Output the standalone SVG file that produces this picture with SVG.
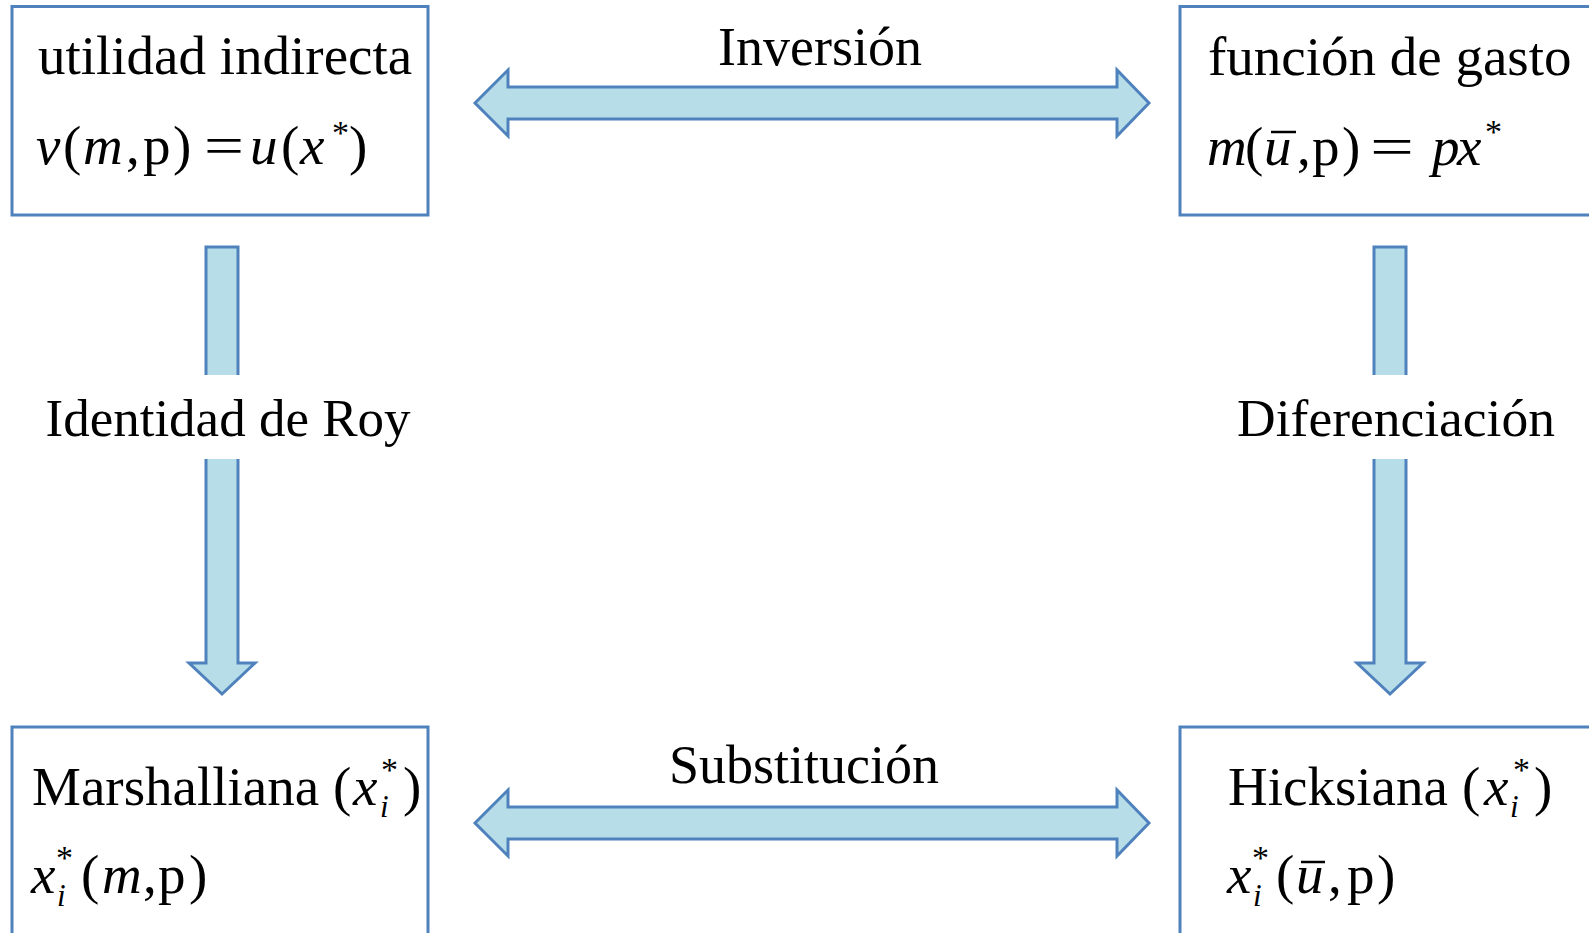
<svg xmlns="http://www.w3.org/2000/svg" width="1589" height="933" viewBox="0 0 1589 933">
<style>
.box{fill:#ffffff;stroke:#4F81BD;stroke-width:3}
.arr{fill:#B7DEE8;stroke:#4F81BD;stroke-width:3;stroke-linejoin:miter}
text{font-family:"Liberation Serif","Times New Roman",serif;font-size:55px;fill:#000}
.lbl{font-size:54px}
.i{font-style:italic}
.sup{font-size:34px}
.sub{font-size:31px;font-style:italic}
.bar{stroke:#000;stroke-width:2.5}
</style>
<rect width="1589" height="933" fill="#ffffff"/>
<g id="connectors">
  <g id="inversion">
    <path class="arr" d="M475,103 L508,70 L508,87 L1117,87 L1117,70 L1149,103 L1117,136 L1117,119 L508,119 L508,136 Z"/>
    <text class="lbl" x="820" y="65" text-anchor="middle">Inversión</text>
  </g>
  <g id="substitucion">
    <path class="arr" d="M475,823 L508,790 L508,807 L1117,807 L1117,790 L1149,823 L1117,856 L1117,839 L508,839 L508,856 Z"/>
    <text class="lbl" x="804" y="783" text-anchor="middle">Substitución</text>
  </g>
  <g id="roy">
    <path class="arr" d="M206,247 L238,247 L238,663 L255,663 L222,694 L189,663 L206,663 Z"/>
    <rect x="40" y="375" width="375" height="84" fill="#ffffff"/>
    <text class="lbl" x="228" y="436" text-anchor="middle" style="font-size:53px">Identidad de Roy</text>
  </g>
  <g id="diferenciacion">
    <path class="arr" d="M1374,247 L1406,247 L1406,663 L1423,663 L1390,694 L1357,663 L1374,663 Z"/>
    <rect x="1232" y="375" width="328" height="84" fill="#ffffff"/>
    <text class="lbl" x="1396" y="436" text-anchor="middle" style="font-size:53.5px">Diferenciación</text>
  </g>
</g>
<g id="node-utilidad">
  <rect class="box" x="12" y="6.5" width="416" height="208.5"/>
  <text x="38" y="74">utilidad indirecta</text>
  <text y="164"><tspan class="i" x="36">v</tspan><tspan x="63">(</tspan><tspan class="i" x="83">m</tspan><tspan x="126">,</tspan><tspan x="143">p</tspan><tspan x="173">)</tspan></text>
  <text x="204" y="164" textLength="40" lengthAdjust="spacingAndGlyphs">=</text>
  <text y="164"><tspan class="i" x="250">u</tspan><tspan x="281">(</tspan><tspan class="i" x="300">x</tspan><tspan x="349">)</tspan></text>
  <text class="sup" x="332" y="144">*</text>
</g>
<g id="node-gasto">
  <rect class="box" x="1180" y="6.5" width="420" height="208.5"/>
  <text x="1208" y="75">función de gasto</text>
  <text y="165"><tspan class="i" x="1207">m</tspan><tspan x="1245">(</tspan><tspan class="i" x="1264">u</tspan><tspan x="1297">,</tspan><tspan x="1312">p</tspan><tspan x="1342">)</tspan></text>
  <text x="1370" y="165" textLength="44" lengthAdjust="spacingAndGlyphs">=</text>
  <text y="165"><tspan class="i" x="1432">p</tspan><tspan class="i" x="1457">x</tspan></text>
  <line class="bar" x1="1271" y1="132" x2="1296" y2="132"/>
  <text class="sup" x="1485" y="143">*</text>
</g>
<g id="node-marshalliana">
  <rect class="box" x="12" y="727" width="416" height="220"/>
  <text x="32" y="805">Marshalliana</text>
  <text y="805"><tspan x="333">(</tspan><tspan class="i" x="353">x</tspan><tspan x="403">)</tspan></text>
  <text class="sub" x="380" y="817">i</text>
  <text class="sup" x="381" y="781">*</text>
  <text y="893"><tspan class="i" x="31">x</tspan><tspan x="81">(</tspan><tspan class="i" x="102">m</tspan><tspan x="143">,</tspan><tspan x="158">p</tspan><tspan x="189">)</tspan></text>
  <text class="sub" x="57" y="906">i</text>
  <text class="sup" x="56" y="869">*</text>
</g>
<g id="node-hicksiana">
  <rect class="box" x="1180" y="727" width="420" height="220"/>
  <text x="1228" y="805">Hicksiana</text>
  <text y="805"><tspan x="1462">(</tspan><tspan class="i" x="1484">x</tspan><tspan x="1534">)</tspan></text>
  <text class="sub" x="1510" y="817">i</text>
  <text class="sup" x="1513" y="781">*</text>
  <text y="893"><tspan class="i" x="1227">x</tspan><tspan x="1276">(</tspan><tspan class="i" x="1296">u</tspan><tspan x="1328">,</tspan><tspan x="1347">p</tspan><tspan x="1377">)</tspan></text>
  <line class="bar" x1="1301" y1="862" x2="1325" y2="862"/>
  <text class="sub" x="1253" y="906">i</text>
  <text class="sup" x="1252" y="869">*</text>
</g>
</svg>
